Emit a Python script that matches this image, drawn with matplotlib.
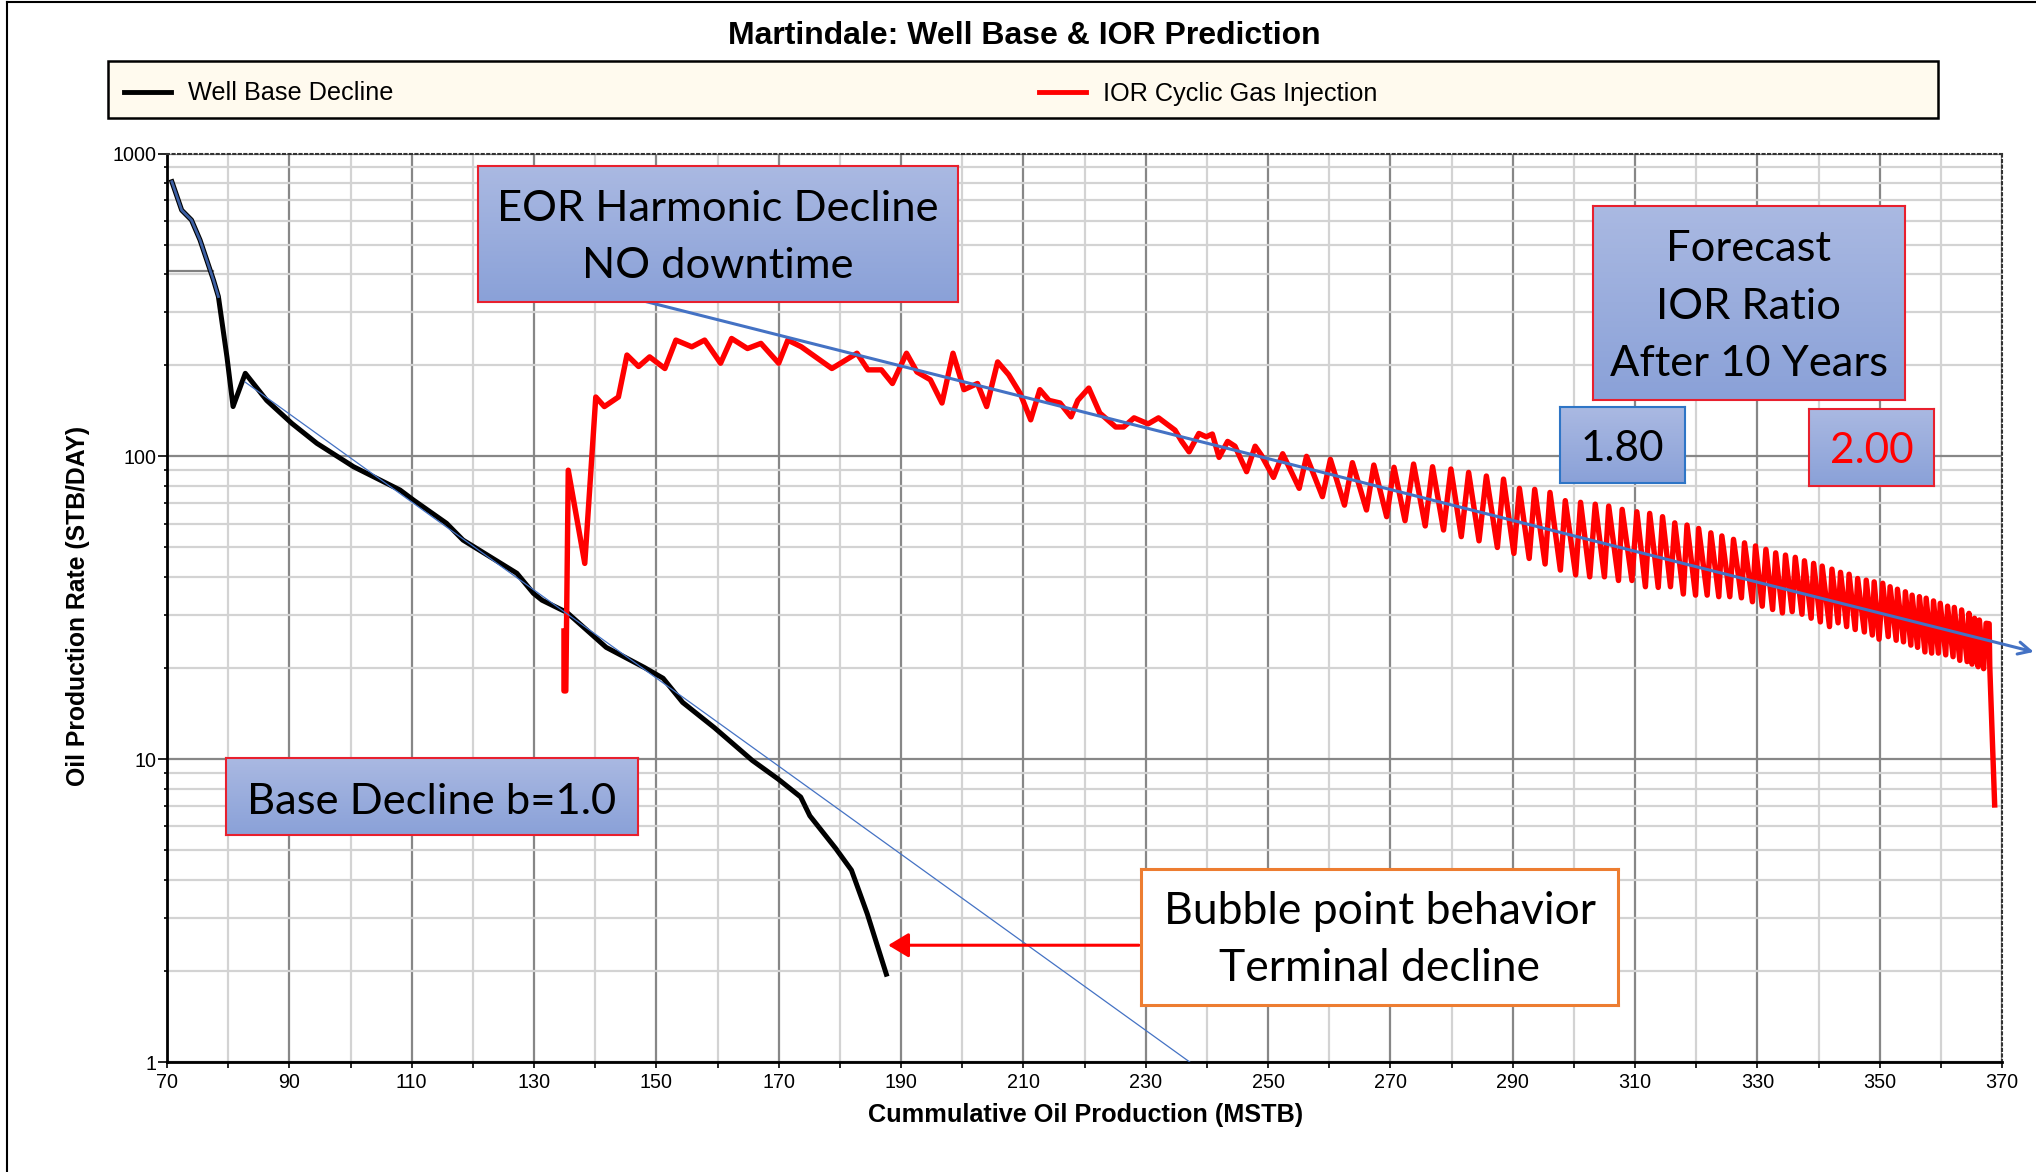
import numpy as np
import matplotlib
matplotlib.use("Agg")
import matplotlib.pyplot as plt
from matplotlib.ticker import FixedLocator, LogLocator, NullFormatter, FuncFormatter
from matplotlib.colors import LinearSegmentedColormap
from matplotlib.lines import Line2D
from matplotlib.patches import Rectangle

plt.rcParams['font.family'] = ['Liberation Sans', 'DejaVu Sans']

# ---- data ----
base_cum = [70.8, 72.4, 74.0, 75.4, 77.6, 78.4, 79.8, 80.8, 82.8, 86.3, 90.4, 94.5,
            100.5, 108.1, 110.3, 115.7, 118.4, 127.2, 129.9, 131.3, 135.4, 141.8,
            148.0, 151.1, 154.3, 159.5, 165.7, 169.9, 173.6, 175.1, 179.3, 181.9,
            184.5, 187.6]
base_rate = [807, 650, 603, 518, 382, 337, 213, 146, 188, 153, 128.5, 110.4,
             92.4, 77.4, 71.7, 60.1, 52.9, 41.1, 35.3, 33.5, 30.5, 23.4,
             20.1, 18.5, 15.4, 12.7, 9.9, 8.6, 7.5, 6.5, 5.08, 4.3,
             3.08, 1.95]

ior_cum = [134.9, 134.9, 135.2, 135.6, 138.3, 140.1, 141.5, 143.8, 145.2, 147.1, 148.9,
           151.4, 153.2, 155.8, 157.9, 160.5, 162.3, 164.9, 167.1, 170.0, 171.5, 173.7,
           176.3, 178.7, 182.8, 184.6, 186.8, 188.6, 190.9, 192.6, 194.8, 196.7, 198.5,
           200.3, 202.5, 204.0, 205.8, 207.6, 209.5, 211.2, 212.7, 214.2, 216.0, 217.8,
           218.9, 220.7, 222.5, 225.1, 226.4, 228.1, 230.4, 232.1, 234.8, 235.9, 237.1,
           238.7, 239.9, 240.9, 242.0, 243.4, 244.6, 246.5, 247.9, 248.9, 250.9, 252.4,
           255.1, 256.3, 258.9, 260.2, 262.5, 263.8, 266.1, 267.3, 269.4, 270.6, 272.4,
           273.8, 275.7, 276.9, 278.7, 279.9, 281.6, 282.8, 284.5, 285.7, 287.5, 288.5,
           290.2, 291.1, 292.7, 293.6, 295.3, 296.1, 297.8, 298.6, 300.3, 301.1, 302.6,
           303.5, 305.0, 305.7, 307.3, 307.9, 309.5, 310.3, 311.7, 312.4, 313.8, 314.5,
           315.8, 316.5, 317.9, 318.5, 319.9, 320.4, 321.8, 322.4, 323.7, 324.2, 325.5,
           326.1, 327.4, 327.9, 329.2, 329.7, 330.8, 331.4, 332.5, 333.0, 334.1, 334.6,
           335.7, 336.2, 337.3, 337.7, 338.8, 339.2, 340.3, 340.6, 341.8, 342.2, 343.2,
           343.6, 344.6, 345.0, 346.0, 346.4, 347.5, 347.8, 348.8, 349.1, 349.9, 350.5,
           351.4, 351.7, 352.7, 352.9, 353.9, 354.2, 355.1, 355.3, 356.2, 356.5, 357.4,
           357.6, 358.5, 358.8, 359.6, 359.9, 360.8, 361.1, 362.0, 362.2, 363.1, 363.4,
           364.3, 364.6, 365.1, 365.5, 366.1, 366.3, 367.0, 367.4, 367.9, 368.0, 368.8]
ior_rate = [26.5, 16.8, 16.8, 90, 44.3, 157, 146, 157, 216, 198, 213,
            195, 242, 230, 242, 203, 245, 227, 236, 203, 242, 230,
            211, 195, 219, 193, 193, 174, 219, 190, 179, 150, 219,
            166, 174, 146, 205, 186, 161, 132, 166, 153, 150, 135,
            153, 168, 139, 125, 125, 134, 128, 134, 122, 112, 103.5,
            119, 116, 118.5, 99.2, 112, 108, 89, 108, 101, 85.2, 102,
            78.4, 100, 73.6, 97.7, 69, 95.3, 66.5, 93.6, 63.2, 92, 61.3,
            94.3, 58.9, 92.4, 57.1, 90.8, 54.3, 88.5, 52.6, 86.1, 50, 84.1,
            47.8, 78.4, 46, 77.8, 44.1, 76, 42.1, 71.4, 40.6, 70.5, 40,
            69.5, 40, 68.5, 38.9, 66.8, 38.9, 65.6, 37.1, 64.8, 36.9, 63.2,
            37.1, 60.3, 35.1, 59.3, 34.8, 57.8, 34.8, 55.9, 34.4, 54.6, 34.4,
            53.2, 34.1, 51.8, 33.1, 50.6, 32, 49.3, 31.2, 48, 30.4, 47.2,
            30.7, 46.4, 30.1, 45.2, 29.2, 44.3, 28.4, 43.4, 27.4, 42.4, 28.2,
            41.4, 27.4, 40.8, 26.8, 39.5, 26.3, 39, 25.7, 38.5, 24.9, 38.1,
            25.4, 37.1, 24.7, 36.4, 24.4, 35.7, 23.8, 34.8, 23.4, 34.4, 22.6,
            34, 22.4, 33.3, 22.4, 32.7, 22.1, 32, 21.8, 31.7, 21.2, 31.1,
            21, 30.3, 20.6, 29.2, 20.2, 28.8, 19.9, 28.1, 28.0, 20.2, 7.06]

# fitted decline lines drawn on the chart
base_fit_cum = [82.75, 237.2]
base_fit_rate = [176, 1.0]
eor_fit_cum = [145.8, 375.2]
eor_fit_rate = [334, 22.6]

x_major = list(range(70, 371, 20))
x_minor = list(range(80, 370, 20))

W, H = 2036, 1172
fig = plt.figure(figsize=(W / 100, H / 100), dpi=100)
ax = fig.add_axes([167 / W, 1 - 1062 / H, 1835 / W, 908.5 / H])

ax.set_yscale('log')
ax.set_xlim(70, 370)
ax.set_ylim(1, 1000)
ax.xaxis.set_major_locator(FixedLocator(x_major))
ax.xaxis.set_minor_locator(FixedLocator(x_minor))
ax.yaxis.set_major_locator(LogLocator(base=10))
ax.yaxis.set_minor_locator(LogLocator(base=10, subs=range(2, 10)))
ax.yaxis.set_major_formatter(FuncFormatter(lambda v, p: f'{v:g}'))
ax.yaxis.set_minor_formatter(NullFormatter())

ax.grid(which='major', color='#878787', lw=1.6)
ax.grid(which='minor', color='#d3d3d3', lw=1.6)
ax.set_axisbelow(True)

ax.tick_params(axis='both', which='major', labelsize=14.2, color='black')
ax.tick_params(axis='y', which='major', length=6.5, width=1.2, pad=1)
ax.tick_params(axis='y', which='minor', length=2.5, width=1.2)
ax.tick_params(axis='x', which='both', length=4, width=1.2, pad=4)

for s in ['left', 'bottom']:
    ax.spines[s].set_linewidth(2)
    ax.spines[s].set_color('black')
for s in ['top', 'right']:
    ax.spines[s].set_linestyle(':')
    ax.spines[s].set_linewidth(1.5)
    ax.spines[s].set_color('#333333')

# short stray grid segment near the start
ax.plot([70, 77.6], [410, 410], color='#808080', lw=1.6, zorder=1)

ax.plot(base_cum, base_rate, color='black', lw=3.6, solid_joinstyle='round', zorder=3)
ax.plot(base_cum[:6], base_rate[:6], color='#3c5fa3', lw=2, zorder=4)
ax.plot(ior_cum, ior_rate, color='#ff0000', lw=3.9, solid_joinstyle='round', zorder=4)
ax.plot(base_fit_cum, base_fit_rate, color='#4472c4', lw=0.9, zorder=5)

ann = ax.annotate('', xy=(eor_fit_cum[1], eor_fit_rate[1]), xytext=(eor_fit_cum[0], eor_fit_rate[0]),
                  arrowprops=dict(arrowstyle='->', color='#4472c4', lw=2.2, mutation_scale=22,
                                  shrinkA=0, shrinkB=0),
                  annotation_clip=False, zorder=6)
ann.arrow_patch.set_clip_on(False)

ax.annotate('', xy=(187.9, 2.43), xytext=(228.9, 2.43),
            arrowprops=dict(arrowstyle='-|>,head_length=0.5,head_width=0.3', color='#ff0000',
                            lw=2.2, mutation_scale=25, shrinkA=0, shrinkB=0), zorder=6)

# title, axis labels
fig.text(1024 / W, 1 - 36 / H, 'Martindale: Well Base & IOR Prediction', ha='center', va='center',
         fontsize=23, weight='bold')
fig.text(1086 / W, 1 - 1115 / H, 'Cummulative Oil Production (MSTB)', ha='center', va='center',
         fontsize=18.2, weight='bold')
fig.text(78 / W, 1 - 606 / H, 'Oil Production Rate (STB/DAY)', ha='center', va='center',
         rotation=90, fontsize=17.8, weight='bold')

# legend: cream frame spanning the width, entries placed like the original
fig.add_artist(Rectangle((108 / W, 1 - 118 / H), 1830 / W, 57 / H, transform=fig.transFigure,
                         facecolor='#fffaee', edgecolor='black', lw=1.8, zorder=1))
leg_fs = 18.2
leg_px = leg_fs * 100 / 72
handles = [Line2D([], [], color='black', lw=3.5), Line2D([], [], color='#ff0000', lw=3.5)]
fig.legend(handles, ['Well Base Decline', 'IOR Cyclic Gas Injection'], loc='center left',
           bbox_to_anchor=(124 / W, 1 - 93.5 / H), ncol=2, fontsize=leg_fs, frameon=False,
           handlelength=47 / leg_px, handletextpad=17 / leg_px,
           columnspacing=(1041 - 395) / leg_px, borderpad=0, borderaxespad=0)

# outer frame of the screenshot
fig.add_artist(Line2D([7 / W, 7 / W], [0, 1 - 2 / H], color='black', lw=1.5))
fig.add_artist(Line2D([7 / W, 1], [1 - 2 / H, 1 - 2 / H], color='black', lw=1.5))

# annotation boxes
box_cmap = LinearSegmentedColormap.from_list('box', ['#aab9e2', '#8aa1d8'])
calibri = ['Lato', 'DejaVu Sans']


def make_box(x0, y0, x1, y1, edge, lw, gradient=True):
    bax = fig.add_axes([x0 / W, 1 - y1 / H, (x1 - x0) / W, (y1 - y0) / H])
    if gradient:
        bax.imshow(np.linspace(0, 1, 64).reshape(-1, 1), cmap=box_cmap, aspect='auto',
                   extent=(0, 1, 0, 1))
    else:
        bax.set_facecolor('white')
    bax.set_xlim(0, 1)
    bax.set_ylim(0, 1)
    bax.set_xticks([])
    bax.set_yticks([])
    for sp in bax.spines.values():
        sp.set_edgecolor(edge)
        sp.set_linewidth(lw)
    return bax


def box_text(bax, y0, y1, base, txt, color='black', size=31.3):
    bax.text(0.5, (y1 - base) / (y1 - y0), txt, ha='center', va='baseline', color=color,
             fontsize=size, family=calibri, transform=bax.transAxes)


b = make_box(478, 166, 958, 302, '#e8202e', 1.5)
box_text(b, 166, 302, 220.7, 'EOR Harmonic Decline')
box_text(b, 166, 302, 278, 'NO downtime')

b = make_box(1593, 206, 1905, 400, '#e8202e', 1.5)
box_text(b, 206, 400, 261, 'Forecast')
box_text(b, 206, 400, 319, 'IOR Ratio')
box_text(b, 206, 400, 375.7, 'After 10 Years')

b = make_box(1560, 407, 1685, 483, '#2e75c6', 1.5)
box_text(b, 407, 483, 460.7, '1.80', size=30.5)

b = make_box(1809, 409, 1934, 486, '#e8202e', 1.5)
box_text(b, 409, 486, 463.3, '2.00', color='#ff0000', size=30.5)

b = make_box(226, 758, 638, 835, '#e8202e', 1.5)
box_text(b, 758, 835, 813.5, 'Base Decline b=1.0')

b = make_box(1141, 869, 1618, 1005, '#ed7d31', 2.2, gradient=False)
box_text(b, 869, 1005, 924, 'Bubble point behavior', size=32)
box_text(b, 869, 1005, 981.4, 'Terminal decline', size=32)

fig.savefig('out.png', dpi=100)
